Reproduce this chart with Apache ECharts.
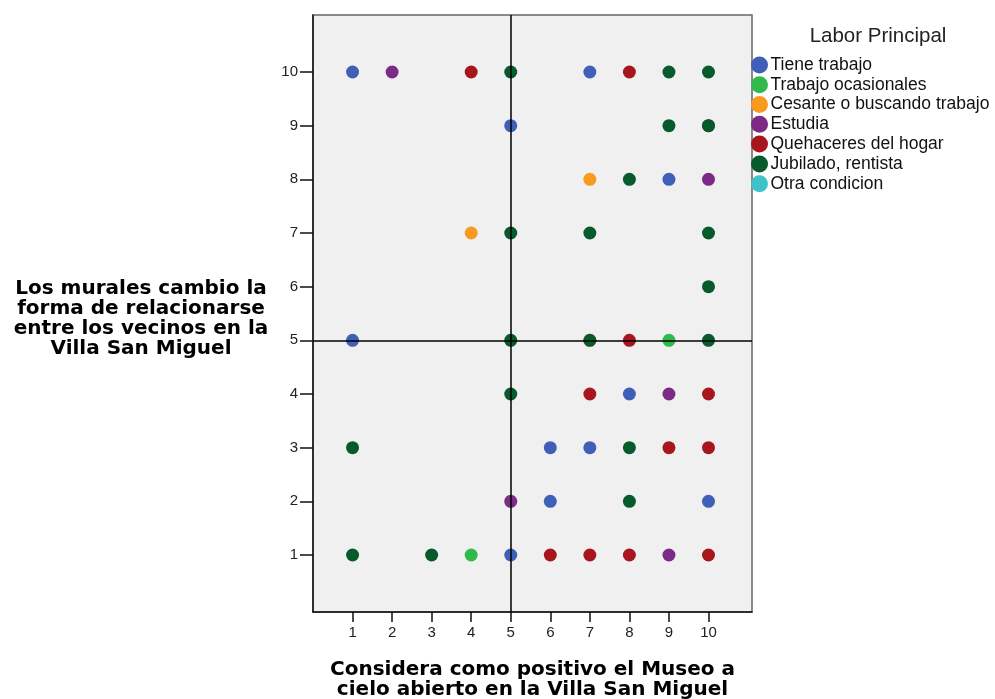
<!DOCTYPE html>
<html>
<head>
<meta charset="utf-8">
<script src="https://cdn.jsdelivr.net/npm/echarts@6/dist/echarts.min.js"></script>
<style>
  html, body { margin: 0; padding: 0; background: #fff; }
  #chart { width: 995px; height: 699px; }
</style>
</head>
<body>
<div id="chart"></div>
<script>
// categorias de la leyenda
const categorias = ['Tiene trabajo', 'Trabajo ocasionales', 'Cesante o buscando trabajo',
  'Estudia', 'Quehaceres del hogar', 'Jubilado, rentista', 'Otra condicion'];
const colores = ['#4060b8', '#2fba4a', '#f89a1e', '#7c2a86', '#a8161d', '#075a2b', '#3ec3c9'];

// puntos [museo, murales] por categoria
const tieneTrabajo = [[1, 10], [7, 10], [5, 9], [9, 8], [1, 5], [8, 4], [6, 3], [7, 3], [6, 2], [10, 2], [5, 1]];
const ocasionales = [[9, 5], [4, 1]];
const cesante = [[7, 8], [4, 7], [7, 5]];
const estudia = [[2, 10], [10, 8], [9, 4], [5, 2], [9, 1]];
const quehaceres = [[4, 10], [8, 10], [10, 9], [8, 5], [7, 4], [10, 4], [9, 3], [10, 3], [6, 1], [7, 1], [8, 1], [10, 1]];
const jubilado = [[5, 10], [9, 10], [10, 10], [9, 9], [10, 9], [8, 8], [5, 7], [7, 7], [10, 7], [10, 6],
  [5, 5], [7, 5], [10, 5], [5, 4], [1, 3], [8, 3], [8, 2], [1, 1], [3, 1]];
const otra = [];

const ticks = [1, 2, 3, 4, 5, 6, 7, 8, 9, 10];
const lineaRef = 5;

const datos = [tieneTrabajo, ocasionales, cesante, estudia, quehaceres, jubilado, otra];

const chart = echarts.init(document.getElementById('chart'));

const series = categorias.map((nombre, i) => ({
  name: nombre,
  type: 'scatter',
  data: datos[i],
  symbolSize: 13,
  itemStyle: { color: colores[i], opacity: 1 }
}));

// lineas de referencia
series.push({
  name: 'ref',
  type: 'scatter',
  data: [],
  silent: true,
  z: 5,
  markLine: {
    silent: true,
    symbol: 'none',
    label: { show: false },
    lineStyle: { color: '#000', width: 1.5, type: 'solid' },
    data: [{ xAxis: lineaRef }, { yAxis: lineaRef }]
  }
});

const tituloBold = {
  fontFamily: '"DejaVu Sans", Verdana, sans-serif',
  fontWeight: 'bold',
  fontSize: 20,
  lineHeight: 20,
  color: '#000'
};

const option = {
  animation: false,
  textStyle: { fontFamily: '"Liberation Sans", Arial, sans-serif' },
  title: {
    text: 'Labor Principal',
    left: 873,
    top: 21,
    textAlign: 'center',
    textStyle: { fontSize: 20.5, fontWeight: 'normal', color: '#222', fontFamily: '"Liberation Sans", Arial, sans-serif' }
  },
  legend: {
    data: categorias,
    orient: 'vertical',
    left: 751,
    top: 55,
    padding: 0,
    itemGap: 0,
    itemWidth: 18,
    itemHeight: 17,
    icon: 'circle',
    textStyle: { fontSize: 17.5, lineHeight: 19.8, color: '#111', padding: [0, 0, 0, -3] }
  },
  grid: {
    left: 313,
    top: 15,
    width: 439,
    height: 597,
    outerBoundsMode: 'none',
    containLabel: false,
    show: true,
    backgroundColor: '#f0f0f0',
    borderColor: '#666',
    borderWidth: 1.5
  },
  xAxis: {
    type: 'value',
    min: 0,
    max: 11.1,
    name: 'Considera como positivo el Museo a\ncielo abierto en la Villa San Miguel',
    nameLocation: 'middle',
    nameGap: 48,
    nameTextStyle: tituloBold,
    axisLine: { show: true, onZero: false, lineStyle: { color: '#111', width: 1.5 } },
    axisTick: { show: true, length: 10, customValues: ticks, lineStyle: { color: '#111', width: 1.5 } },
    axisLabel: { customValues: ticks, fontSize: 15, color: '#222', margin: 13 },
    splitLine: { show: false }
  },
  yAxis: {
    type: 'value',
    min: -0.062,
    max: 11.062,
    name: '{s| }\n{t|Los murales cambio la}\n{t|forma de relacionarse}\n{t|entre los vecinos en la}\n{t|Villa San Miguel}',
    nameLocation: 'middle',
    nameRotate: 0,
    nameGap: 172,
    nameTextStyle: {
      align: 'center',
      rich: {
        s: { fontSize: 1, lineHeight: 10 },
        t: tituloBold
      }
    },
    axisLine: { show: true, onZero: false, lineStyle: { color: '#111', width: 1.5 } },
    axisTick: { show: true, length: 13, customValues: ticks, lineStyle: { color: '#111', width: 1.5 } },
    axisLabel: { customValues: ticks, fontSize: 15, color: '#222', margin: 15 },
    splitLine: { show: false }
  },
  series: series
};

chart.setOption(option);
</script>
</body>
</html>
